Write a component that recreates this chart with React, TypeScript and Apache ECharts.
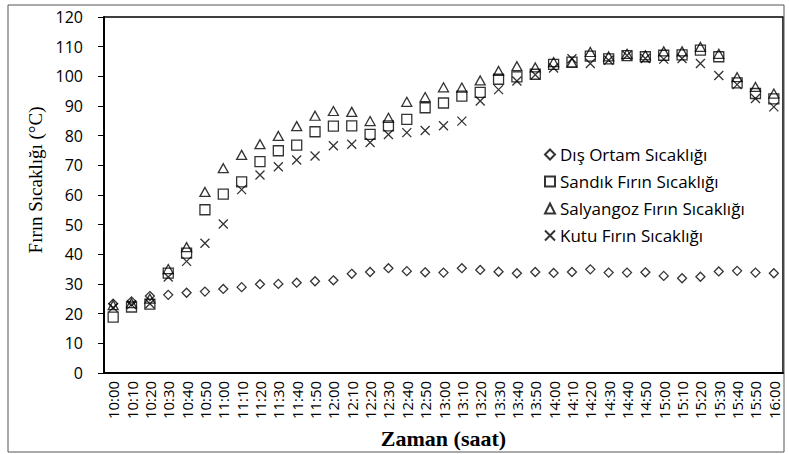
import React, { useEffect, useRef } from "react";
import * as echarts from "echarts";

const categories = [
  "10:00","10:10","10:20","10:30","10:40","10:50","11:00","11:10","11:20","11:30",
  "11:40","11:50","12:00","12:10","12:20","12:30","12:40","12:50","13:00","13:10",
  "13:20","13:30","13:40","13:50","14:00","14:10","14:20","14:30","14:40","14:50",
  "15:00","15:10","15:20","15:30","15:40","15:50","16:00"
];

const disOrtam = [
  23.3, 24.1, 25.9, 26.3, 27.0, 27.4, 28.3, 28.9, 29.9, 30.0,
  30.4, 30.9, 31.2, 33.4, 34.0, 35.3, 34.3, 33.9, 33.8, 35.3,
  34.7, 34.1, 33.6, 34.0, 33.7, 34.0, 34.9, 33.8, 33.8, 33.9,
  32.7, 31.9, 32.4, 34.2, 34.4, 33.8, 33.6
];

const sandik = [
  18.8, 22.2, 23.2, 33.6, 40.4, 55.0, 60.3, 64.4, 71.2, 74.9,
  76.8, 81.3, 83.2, 83.3, 80.4, 83.3, 85.5, 89.4, 91.0, 93.3,
  94.6, 99.0, 99.8, 100.7, 104.0, 104.8, 106.8, 105.9, 107.0, 106.6,
  107.1, 107.2, 108.8, 106.6, 97.8, 94.2, 92.4
];

const salyangoz = [
  22.8, 23.5, 25.0, 35.0, 42.4, 61.0, 69.0, 73.5, 77.1, 79.9,
  83.2, 86.7, 88.3, 88.0, 84.9, 86.0, 91.4, 93.0, 96.3, 96.2,
  98.6, 101.8, 103.4, 103.0, 104.8, 104.6, 108.2, 106.7, 107.6, 107.1,
  108.4, 108.4, 109.9, 107.6, 99.7, 96.4, 94.2
];

const kutu = [
  22.0, 23.0, 23.3, 32.3, 37.6, 43.7, 50.2, 61.8, 66.7, 69.5,
  71.8, 73.1, 76.6, 77.1, 77.7, 80.4, 81.0, 81.7, 83.3, 84.9,
  91.7, 95.5, 98.4, 100.5, 102.8, 105.9, 104.3, 105.4, 107.0, 106.0,
  105.8, 106.0, 104.3, 100.3, 97.2, 92.5, 89.7
];

const seriesNames = [
  "Dış Ortam Sıcaklığı",
  "Sandık Fırın Sıcaklığı",
  "Salyangoz Fırın Sıcaklığı",
  "Kutu Fırın Sıcaklığı"
];

const SANS = '"Open Sans", "Noto Sans", sans-serif';
const SERIF = '"Liberation Serif", "DejaVu Serif", serif';

export default function App() {
  const ref = useRef<HTMLDivElement>(null);

  useEffect(() => {
    if (!ref.current) return;
    const chart = echarts.init(ref.current, undefined, { renderer: "svg" });
    const hollow = { color: "rgba(0,0,0,0)", borderColor: "#000", borderWidth: 1.3 };
    const mk = (name: string, data: number[], symbol: string, size: number | number[]) => ({
      name,
      type: "scatter",
      data,
      symbol,
      symbolSize: size,
      itemStyle: hollow,
      emphasis: { disabled: true },
    });

    chart.setOption({
      animation: false,
      backgroundColor: "#fff",
      grid: {
        left: 104,
        right: 6,
        top: 17,
        bottom: 79,
        show: true,
        borderColor: "#000",
        borderWidth: 1.5,
        backgroundColor: "transparent",
      },
      legend: {
        orient: "vertical",
        left: 539,
        top: 141,
        itemWidth: 10,
        itemHeight: 10,
        itemGap: 10,
        textStyle: { fontSize: 17, fontFamily: SANS, color: "#000" },
        data: seriesNames,
      },
      xAxis: {
        type: "category",
        data: categories,
        boundaryGap: true,
        name: "Zaman (saat)",
        nameLocation: "middle",
        nameGap: 46,
        nameTextStyle: { fontSize: 22, fontWeight: "bold", fontFamily: SERIF, color: "#000" },
        axisLine: { lineStyle: { color: "#000", width: 2 } },
        axisTick: { alignWithLabel: true, length: 6, lineStyle: { color: "#000" } },
        axisLabel: {
          rotate: 90,
          interval: 0,
          fontSize: 15,
          fontFamily: SANS,
          color: "#000",
          margin: 8,
        },
        splitLine: { show: false },
      },
      yAxis: {
        type: "value",
        min: 0,
        max: 120,
        interval: 10,
        axisLine: { show: true, lineStyle: { color: "#000", width: 2 } },
        axisTick: { show: true, length: 6, lineStyle: { color: "#000" } },
        axisLabel: { fontSize: 16, fontFamily: SANS, color: "#000", margin: 21 },
        splitLine: { show: false },
      },
      graphic: [
        {
          type: "rect",
          shape: { x: 8, y: 5, width: 776, height: 447 },
          style: { fill: "none", stroke: "#555", lineWidth: 1 },
          silent: true,
        },
        {
          type: "text",
          x: 35,
          y: 180,
          rotation: Math.PI / 2,
          style: {
            text: "Fırın Sıcaklığı (°C)",
            fontSize: 19,
            fontFamily: SERIF,
            fill: "#000",
            textAlign: "center",
            textVerticalAlign: "middle",
          },
        },
      ],
      series: [
        mk(seriesNames[0], disOrtam, "diamond", 9),
        mk(seriesNames[1], sandik, "rect", 10),
        mk(seriesNames[2], salyangoz, "triangle", [10, 9]),
        mk(seriesNames[3], kutu, "path://M0,0L10,10M10,0L0,10", 9),
      ],
    });

    return () => chart.dispose();
  }, []);

  return (
    <div
      ref={ref}
      style={{ position: "absolute", left: 0, top: 0, width: 789, height: 454, background: "#fff" }}
    />
  );
}
